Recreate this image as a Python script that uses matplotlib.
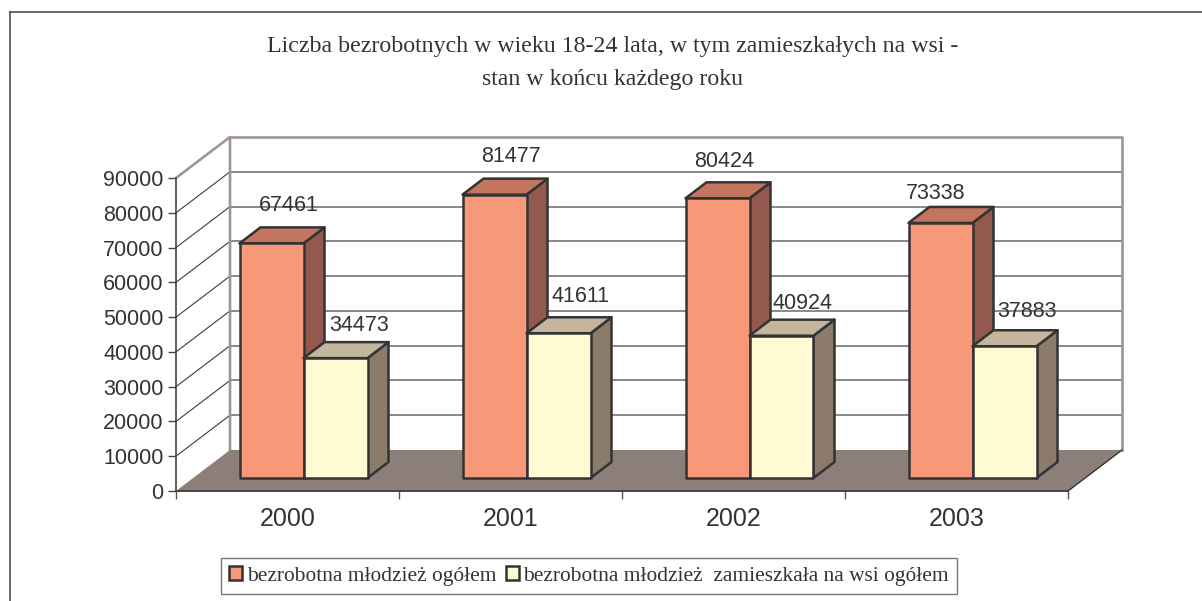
import matplotlib
matplotlib.use("Agg")
import matplotlib.pyplot as plt
from matplotlib.patches import Polygon, Patch

# Data
years = ["2000", "2001", "2002", "2003"]
total = [67461, 81477, 80424, 73338]
rural = [34473, 41611, 40924, 37883]
y_ticks = [0, 10000, 20000, 30000, 40000, 50000, 60000, 70000, 80000, 90000]

title_lines = ["Liczba bezrobotnych w wieku 18-24 lata, w tym zamieszkałych na wsi -",
               "stan w końcu każdego roku"]
legend_labels = ["bezrobotna młodzież ogółem",
                 "bezrobotna młodzież  zamieszkała na wsi ogółem"]

# Hand-placed data label offsets from the front top centre of each bar, pixels
total_label_off = [(17, 38), (16, 38), (7, 37), (-5, 29)]
rural_label_off = [(24, 33), (22, 37), (21, 32), (22, 35)]

W, H = 1202, 601
DARK = "#333333"
WALL = "#a09590"
SANS = "Liberation Sans"
SERIF = "Liberation Serif"

fig = plt.figure(figsize=(W / 100, H / 100), dpi=100)

# Outer frame, open on the right and bottom
fig.add_artist(plt.Line2D([10 / W, 10 / W], [0, 1 - 12 / H], color="#444444", lw=1.1))
fig.add_artist(plt.Line2D([10 / W, 1], [1 - 12 / H, 1 - 12 / H], color="#444444", lw=1.1))

ax = fig.add_axes([176 / W, 1 - 491 / H, (1068 - 176) / W, 313 / H])
ax.set_xlim(0, len(years))
ax.set_ylim(0, y_ticks[-1])
ax.patch.set_visible(False)
for side in ["top", "right"]:
    ax.spines[side].set_visible(False)
ax.spines["left"].set_color("#4a4040")
ax.spines["left"].set_linewidth(1.2)
ax.spines["bottom"].set_color("#444444")
ax.spines["bottom"].set_linewidth(1.4)
ax.spines["left"].set_zorder(20)
ax.spines["bottom"].set_zorder(20)

# pixel lengths -> data units
px_x = len(years) / (1068 - 176)
px_y = y_ticks[-1] / 313


def poly(points, face, edge=DARK, lw=1.8, z=5):
    ax.add_patch(Polygon(points, closed=True, facecolor=face, edgecolor=edge,
                         linewidth=lw, zorder=z, clip_on=False, joinstyle="round"))


def bar3d(x0, width, value, front, top, side):
    # front face sits a little inside the floor, box goes back along the depth
    base = 13 * px_y
    x1 = x0 + width
    dx = 21 * px_x
    dy = 16 * px_y
    y0 = base
    y1 = base + value
    poly([(x1, y0), (x1 + dx, y0 + dy), (x1 + dx, y1 + dy), (x1, y1)], side)
    poly([(x0, y1), (x1, y1), (x1 + dx, y1 + dy), (x0 + dx, y1 + dy)], top)
    poly([(x0, y0), (x1, y0), (x1, y1), (x0, y1)], front)


# Back wall, side wall and floor
back_x = 54 * px_x
back_y = 41 * px_y
xmax = len(years)
ymax = y_ticks[-1]
poly([(0, 0), (back_x, back_y), (back_x, ymax + back_y), (0, ymax)], "white", "none", 0, 1)
for t in y_ticks[1:-1]:
    ax.plot([0, back_x], [t, t + back_y], color="#3c3c3c", lw=0.8, zorder=2, clip_on=False)
    ax.plot([back_x, xmax + back_x], [t + back_y, t + back_y], color="#808080", lw=1.3,
            zorder=2, clip_on=False)
ax.plot([0, back_x, back_x], [ymax, ymax + back_y, back_y], color=WALL, lw=1.9, zorder=3,
        clip_on=False)
ax.plot([back_x, xmax + back_x, xmax + back_x], [ymax + back_y, ymax + back_y, back_y],
        color=WALL, lw=1.9, zorder=3, clip_on=False)
poly([(0, 0), (xmax, 0), (xmax + back_x, back_y), (back_x, back_y)], "#8c7f7a", "none", 0, 4)
ax.plot([xmax, xmax + back_x], [0, back_y], color="#333333", lw=1.0, zorder=4, clip_on=False)

# Bars
bar_w = 64 * px_x
first_off = (239.5 - 176) * px_x
for i in range(len(years)):
    x0 = i + first_off
    bar3d(x0, bar_w, total[i], "#f79878", "#c47560", "#94594e")
    bar3d(x0 + bar_w, bar_w, rural[i], "#fffad4", "#c4b69c", "#8c7b6b")

    for value, off, xc in [(total[i], total_label_off[i], x0 + bar_w / 2),
                           (rural[i], rural_label_off[i], x0 + 1.5 * bar_w)]:
        ax.text(xc + off[0] * px_x, value + (13 + off[1]) * px_y, str(value),
                ha="center", va="center", family=SANS, fontsize=15.5, color=DARK, zorder=10)

# Axes ticks
ax.set_yticks(y_ticks)
ax.set_yticklabels([str(t) for t in y_ticks], family=SANS, fontsize=15.5, color=DARK)
ax.tick_params(axis="y", length=6, width=1.0, color="#4a4040", pad=3)
ax.set_xticks(range(len(years) + 1))
ax.set_xticklabels([])
ax.tick_params(axis="x", length=6, width=1.0, color="#555555")
ax.set_xticks([i + 0.5 for i in range(len(years))], labels=years, minor=True,
              family=SANS, fontsize=18, color=DARK)
ax.tick_params(axis="x", which="minor", length=0, pad=11.5)

# Title
fig.text(613 / W, 1 - 52 / H, title_lines[0], ha="center", va="baseline", family=SERIF,
         fontsize=17.2, color=DARK)
fig.text(612 / W, 1 - 85 / H, title_lines[1], ha="center", va="baseline", family=SERIF,
         fontsize=17.2, color=DARK)

# Legend
handles = [Patch(facecolor="#f79878", edgecolor=DARK, linewidth=1.8),
           Patch(facecolor="#fffad4", edgecolor=DARK, linewidth=1.8)]
leg = fig.legend(handles, legend_labels, loc="center", bbox_to_anchor=(589 / W, 1 - 576 / H),
                 ncol=2, frameon=True, fancybox=False, edgecolor="#777777", framealpha=1,
                 prop={"family": SERIF, "size": 15.4}, labelcolor=DARK, handlelength=0.62,
                 handleheight=0.62, handletextpad=0.2, columnspacing=0.45, borderpad=0.38,
                 borderaxespad=0)
leg.get_frame().set_linewidth(1.0)

fig.savefig("out.png", dpi=100)
